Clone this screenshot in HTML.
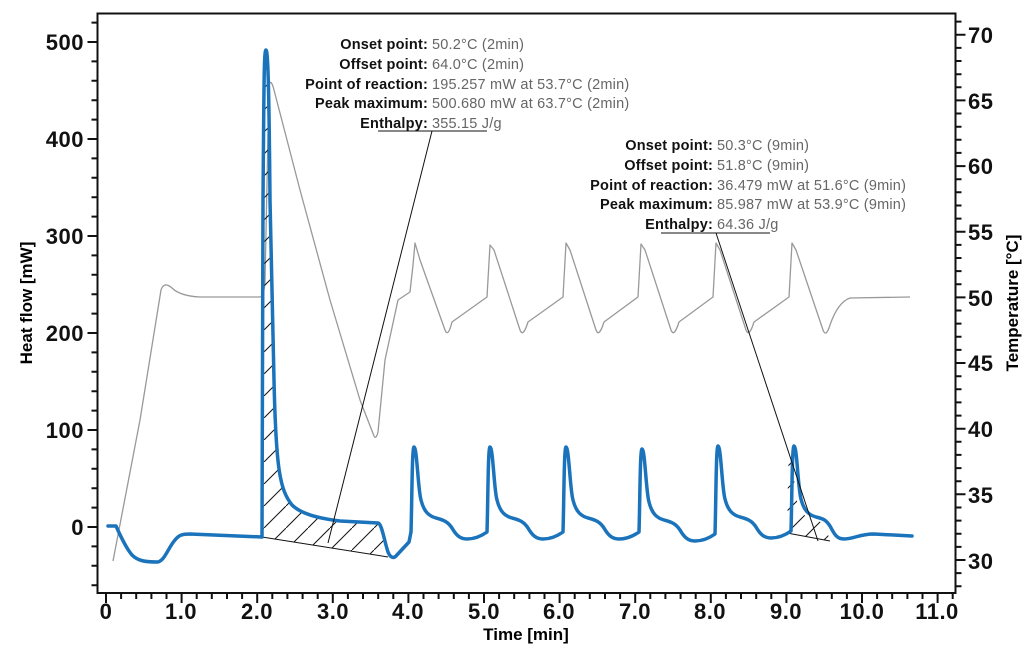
<!DOCTYPE html>
<html><head><meta charset="utf-8"><style>
body{margin:0;background:#fff}
svg{display:block;font-family:"Liberation Sans",sans-serif}
.tl{font-size:22px;font-weight:bold;fill:#111;letter-spacing:0.5px}
.an{font-size:14.5px;fill:#666;letter-spacing:0.2px}
.an .b{font-weight:bold;fill:#111}
</style></head><body>
<svg width="1024" height="653" viewBox="0 0 1024 653">
<defs>
<pattern id="h" patternUnits="userSpaceOnUse" width="22" height="22">
<path d="M-2,24 L24,-2" stroke="#111" stroke-width="1"/>
</pattern>
</defs>
<rect x="97.5" y="13.5" width="858" height="579.5" fill="none" stroke="#111" stroke-width="2"/>
<g stroke="#111" stroke-width="2" fill="none">
<path d="M91.5,585.2H97.5M91.5,565.8H97.5M91.5,546.4H97.5M87.5,527H97.5M91.5,507.6H97.5M91.5,488.2H97.5M91.5,468.8H97.5M91.5,449.4H97.5M87.5,430H97.5M91.5,410.6H97.5M91.5,391.2H97.5M91.5,371.8H97.5M91.5,352.4H97.5M87.5,333H97.5M91.5,313.6H97.5M91.5,294.2H97.5M91.5,274.8H97.5M91.5,255.4H97.5M87.5,236H97.5M91.5,216.6H97.5M91.5,197.2H97.5M91.5,177.8H97.5M91.5,158.4H97.5M87.5,139H97.5M91.5,119.6H97.5M91.5,100.2H97.5M91.5,80.8H97.5M91.5,61.4H97.5M87.5,42H97.5M91.5,22.6H97.5"/>
<path d="M955.5,586.3h6M955.5,573.1h6M955.5,560h10M955.5,546.9h6M955.5,533.7h6M955.5,520.6h6M955.5,507.5h6M955.5,494.3h10M955.5,481.2h6M955.5,468.1h6M955.5,454.9h6M955.5,441.8h6M955.5,428.7h10M955.5,415.6h6M955.5,402.4h6M955.5,389.3h6M955.5,376.2h6M955.5,363h10M955.5,349.9h6M955.5,336.8h6M955.5,323.6h6M955.5,310.5h6M955.5,297.4h10M955.5,284.3h6M955.5,271.1h6M955.5,258h6M955.5,244.9h6M955.5,231.7h10M955.5,218.6h6M955.5,205.5h6M955.5,192.3h6M955.5,179.2h6M955.5,166.1h10M955.5,152.9h6M955.5,139.8h6M955.5,126.7h6M955.5,113.5h6M955.5,100.4h10M955.5,87.3h6M955.5,74.2h6M955.5,61h6M955.5,47.9h6M955.5,34.8h10M955.5,21.6h6"/>
<path d="M106,593v10M121.1,593v6M136.2,593v6M151.4,593v6M166.5,593v6M181.6,593v10M196.7,593v6M211.8,593v6M227,593v6M242.1,593v6M257.2,593v10M272.3,593v6M287.4,593v6M302.6,593v6M317.7,593v6M332.8,593v10M347.9,593v6M363,593v6M378.2,593v6M393.3,593v6M408.4,593v10M423.5,593v6M438.6,593v6M453.8,593v6M468.9,593v6M484,593v10M499.1,593v6M514.2,593v6M529.4,593v6M544.5,593v6M559.6,593v10M574.7,593v6M589.8,593v6M605,593v6M620.1,593v6M635.2,593v10M650.3,593v6M665.4,593v6M680.6,593v6M695.7,593v6M710.8,593v10M725.9,593v6M741,593v6M756.2,593v6M771.3,593v6M786.4,593v10M801.5,593v6M816.6,593v6M831.8,593v6M846.9,593v6M862,593v10M877.1,593v6M892.2,593v6M907.4,593v6M922.5,593v6M937.6,593v10M952.7,593v6"/>
</g>
<g class="tl" text-anchor="end">
<text x="84" y="50">500</text><text x="84" y="147">400</text><text x="84" y="244">300</text>
<text x="84" y="341">200</text><text x="84" y="438">100</text><text x="84" y="535">0</text>
</g>
<g class="tl" text-anchor="start">
<text x="968" y="43">70</text><text x="968" y="109">65</text><text x="968" y="174">60</text>
<text x="968" y="240">55</text><text x="968" y="306">50</text><text x="968" y="371">45</text>
<text x="968" y="437">40</text><text x="968" y="503">35</text><text x="968" y="569">30</text>
</g>
<g class="tl" text-anchor="middle" font-size="20">
<text x="106" y="619">0</text><text x="181" y="619">1.0</text><text x="257" y="619">2.0</text>
<text x="333" y="619">3.0</text><text x="408" y="619">4.0</text><text x="484" y="619">5.0</text>
<text x="559" y="619">6.0</text><text x="635" y="619">7.0</text><text x="710" y="619">8.0</text>
<text x="786" y="619">9.0</text><text x="862" y="619">10.0</text><text x="937" y="619">11.0</text>
</g>
<text x="526" y="640" text-anchor="middle" font-size="17" font-weight="bold">Time [min]</text>
<text transform="translate(32,303) rotate(-90)" text-anchor="middle" font-size="17" font-weight="bold">Heat flow [mW]</text>
<text transform="translate(1018,303) rotate(-90)" text-anchor="middle" font-size="17" font-weight="bold">Temperature [°C]</text>

<path fill="none" stroke="#999" stroke-width="1.3" stroke-linejoin="round" d="M113,561 L140,420 L161,290 Q164,281 172,288 Q180,296 200,297 L260,297 Q264,296 265,282 L269,85 Q271,78 274,90 L300,190 L330,300 L360,400 L374,436 Q376,440 378,432 L385,360 L398,300 L410,292 L413,265 L415,243 L420,260 L445,330 Q448,338 452,322 L487,297 L490,245 L494,250 L520,330 Q523,338 528,322 L563,297 L566,243 L570,250 L596,330 Q599,338 604,322 L638,297 L641,244 L645,250 L671,330 Q674,338 679,322 L713,297 L716,243 L720,250 L746,330 Q749,338 754,322 L789,297 L792,243 L796,250 L823,330 Q826,338 830,325 Q838,302 850,298 L910,297"/>

<path fill="url(#h)" d="M262,537 L263,200 C264,80 264,50 266,50 C268,50 269,90 270,200 L274,380 C276,470 280,490 292,505 C300,513 315,518 340,521 L378,523 C382,524 384,540 388,557 Z"/>
<path fill="url(#h)" d="M787,533 c1,-32 1,-85 3,-85 c3,0 4,43 7,53 c3,12 8,16 15,18 c8,2 10,3 14,9 L830,541 Z"/>
<path fill="none" stroke="#111" stroke-width="1" d="M262,537 L388,557 M787,533 L830,541"/>

<path fill="none" stroke="#1a73bb" stroke-width="3.5" stroke-linejoin="round" stroke-linecap="round" d="M108,526 L116,526 C120,535 126,548 132,555 C138,561 145,562 158,562 C165,560 168,548 175,540 C179,535 182,534 190,534 L262,537 L263,200 C264,80 264,50 266,50 C268,50 269,90 270,200 L274,380 C276,470 280,490 292,505 C300,513 315,518 340,521 L378,523 C382,524 384,540 388,552 C390,557 393,559 396,556 L409,542 L411,532 c1,-32 1,-85 3,-85 c3,0 4,43 7,53 c3,12 8,16 15,18 c8,2 12,4 16,10 c4,7 8,11 15,11 c7,0 13,-2 20,-7 c1,-32 1,-85 3,-85 c3,0 4,43 7,53 c3,12 8,16 15,18 c8,2 12,4 16,10 c4,7 8,11 15,11 c7,0 13,-2 20,-7 c1,-32 1,-85 3,-85 c3,0 4,43 7,53 c3,12 8,16 15,18 c8,2 12,4 16,10 c4,7 8,11 15,11 c7,0 13,-2 20,-7 c1,-32 1,-83 3,-83 c3,0 4,43 7,53 c3,12 8,16 15,18 c8,2 12,4 16,10 c4,7 8,11 15,11 c7,0 13,-2 20,-7 c1,-32 1,-88 3,-88 c3,0 4,43 7,53 c3,12 8,16 15,18 c8,2 12,4 16,10 c4,7 8,11 15,11 c7,0 13,-2 20,-7 c1,-32 1,-85 3,-85 c3,0 4,43 7,53 c3,12 8,16 15,18 c8,2 10,3 14,9 c4,7 6,13 14,13 c10,0 15,-5 30,-5 L912,536"/>

<path fill="none" stroke="#111" stroke-width="1" d="M378,131 L487,131 M432,131 L328,543 M661,233 L770,233 M716,233 L818,541"/>

<g class="an">
<text x="428" y="49" text-anchor="end" class="b">Onset point:</text><text x="432" y="49">50.2°C (2min)</text>
<text x="428" y="69" text-anchor="end" class="b">Offset point:</text><text x="432" y="69">64.0°C (2min)</text>
<text x="428" y="89" text-anchor="end" class="b">Point of reaction:</text><text x="432" y="89">195.257 mW at 53.7°C (2min)</text>
<text x="428" y="108" text-anchor="end" class="b">Peak maximum:</text><text x="432" y="108">500.680 mW at 63.7°C (2min)</text>
<text x="428" y="128" text-anchor="end" class="b">Enthalpy:</text><text x="432" y="128">355.15 J/g</text>
<text x="713" y="150" text-anchor="end" class="b">Onset point:</text><text x="717" y="150">50.3°C (9min)</text>
<text x="713" y="170" text-anchor="end" class="b">Offset point:</text><text x="717" y="170">51.8°C (9min)</text>
<text x="713" y="190" text-anchor="end" class="b">Point of reaction:</text><text x="717" y="190">36.479 mW at 51.6°C (9min)</text>
<text x="713" y="209" text-anchor="end" class="b">Peak maximum:</text><text x="717" y="209">85.987 mW at 53.9°C (9min)</text>
<text x="713" y="229" text-anchor="end" class="b">Enthalpy:</text><text x="717" y="229">64.36 J/g</text>
</g>
</svg>
</body></html>
